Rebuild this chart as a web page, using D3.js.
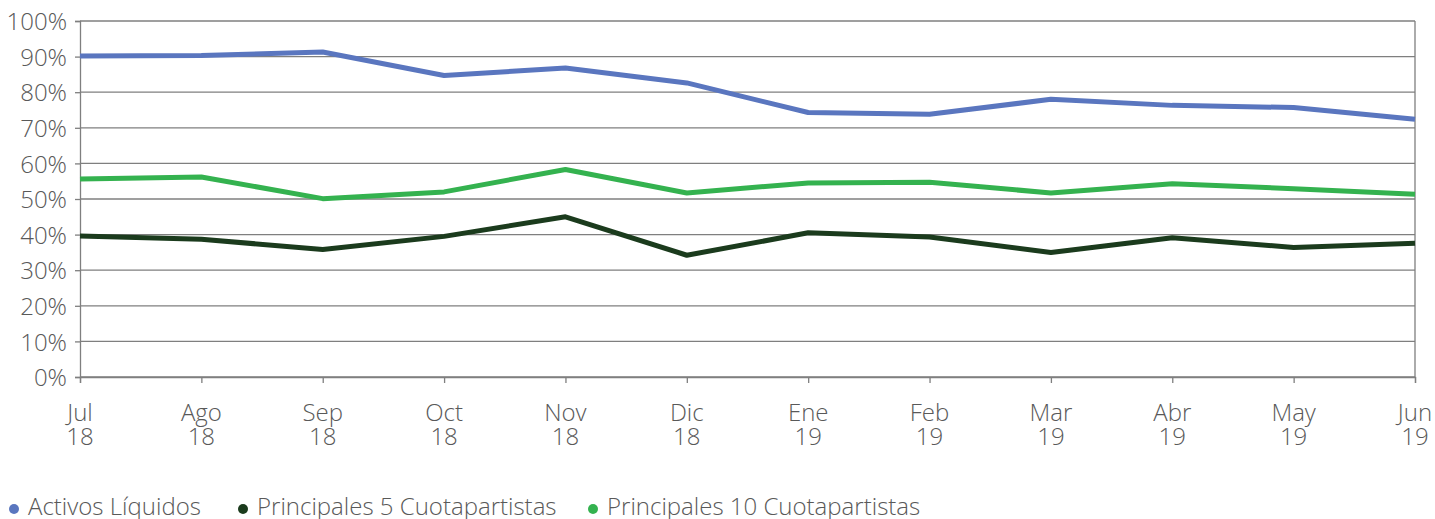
<!DOCTYPE html>
<html>
<head>
<meta charset="utf-8">
<script src="https://cdn.jsdelivr.net/npm/d3@7"></script>
<style>
  body { margin: 0; background: #fff; }
  svg text { font-family: "Open Sans", Lato, sans-serif; font-weight: 300; fill: #595959; }
</style>
</head>
<body>
<svg id="chart" width="1435" height="519"></svg>
<script>
// months on the x axis (two-line labels)
var months = ["Jul", "Ago", "Sep", "Oct", "Nov", "Dic", "Ene", "Feb", "Mar", "Abr", "May", "Jun"];
var years = ["18", "18", "18", "18", "18", "18", "19", "19", "19", "19", "19", "19"];

// values in percent
var activosLiquidos = [90.2, 90.3, 91.3, 84.7, 86.8, 82.6, 74.3, 73.8, 78.0, 76.3, 75.7, 72.4];
var principales5 = [39.6, 38.7, 35.8, 39.5, 45.0, 34.2, 40.5, 39.3, 35.0, 39.1, 36.4, 37.6];
var principales10 = [55.6, 56.2, 50.1, 52.0, 58.3, 51.7, 54.5, 54.7, 51.7, 54.3, 52.9, 51.3];

var yTicks = [0, 10, 20, 30, 40, 50, 60, 70, 80, 90, 100];

var series = [
    { name: "Activos Líquidos", values: activosLiquidos, color: "#5a76bf" },
    { name: "Principales 5 Cuotapartistas", values: principales5, color: "#1b3b1d" },
    { name: "Principales 10 Cuotapartistas", values: principales10, color: "#34b24f" }
];

var svg = d3.select("#chart");
var plotLeft = 80, plotRight = 1415, plotTop = 21, plotBottom = 377;
var fontSize = "24px";

var x = d3.scalePoint().domain(months).range([plotLeft, plotRight]);
var y = d3.scaleLinear().domain([0, 100]).range([plotBottom, plotTop]);

// gridlines
svg.append("g")
    .selectAll("line")
    .data(yTicks)
    .enter()
    .append("line")
    .attr("x1", plotLeft)
    .attr("x2", plotRight)
    .attr("y1", function (d) { return y(d); })
    .attr("y2", function (d) { return y(d); })
    .attr("stroke", "#7f7f7f")
    .attr("stroke-width", 1.3);

// right border
svg.append("line")
    .attr("x1", plotRight).attr("x2", plotRight)
    .attr("y1", plotTop).attr("y2", plotBottom)
    .attr("stroke", "#7f7f7f")
    .attr("stroke-width", 1.3);

// y axis
var yAxis = svg.append("g")
    .attr("transform", "translate(" + plotLeft + ",0)")
    .call(d3.axisLeft(y).tickValues(yTicks).tickSize(5).tickPadding(8)
        .tickFormat(function (d) { return d + "%"; }));
yAxis.select(".domain").attr("stroke", "#7f7f7f").attr("stroke-width", 1.3);
yAxis.selectAll(".tick line").attr("stroke", "#7f7f7f").attr("stroke-width", 1.3);
yAxis.selectAll(".tick text")
    .style("font-size", fontSize)
    .style("font-family", "'Open Sans', Lato, sans-serif")
    .attr("dy", "0.36em");

// x axis
var xAxis = svg.append("g")
    .attr("transform", "translate(0," + plotBottom + ")")
    .call(d3.axisBottom(x).tickSize(6).tickFormat(""));
xAxis.select(".domain").attr("stroke", "#7f7f7f").attr("stroke-width", 1.3);
xAxis.selectAll(".tick line").attr("stroke", "#7f7f7f").attr("stroke-width", 1.3);

var xLabels = svg.append("g");
months.forEach(function (m, i) {
    var t = xLabels.append("text")
        .attr("x", x(m))
        .attr("y", 421)
        .attr("text-anchor", "middle")
        .style("font-size", fontSize);
    t.append("tspan").attr("x", x(m)).text(m);
    t.append("tspan").attr("x", x(m)).attr("dy", 24).text(years[i]);
});

// lines
var line = d3.line()
    .x(function (d, i) { return x(months[i]); })
    .y(function (d) { return y(d); });

series.forEach(function (s) {
    svg.append("path")
        .datum(s.values)
        .attr("d", line)
        .attr("fill", "none")
        .attr("stroke", s.color)
        .attr("stroke-width", 5)
        .attr("stroke-linejoin", "round");
});

// legend
var legendX = [14, 243, 593];
var legend = svg.append("g");
series.forEach(function (s, i) {
    legend.append("circle")
        .attr("cx", legendX[i])
        .attr("cy", 509)
        .attr("r", 5)
        .style("fill", s.color);
    legend.append("text")
        .attr("x", legendX[i] + 14)
        .attr("y", 515)
        .style("font-size", fontSize)
        .text(s.name);
});
</script>
</body>
</html>
